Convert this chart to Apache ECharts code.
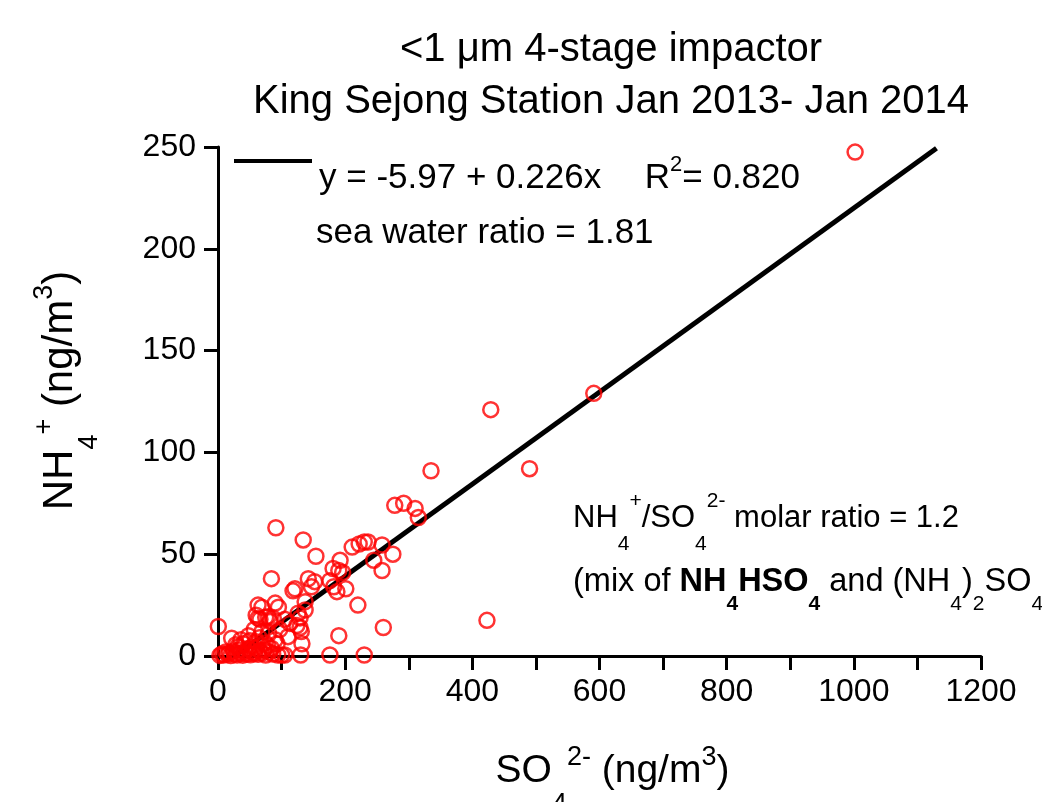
<!DOCTYPE html>
<html><head><meta charset="utf-8">
<script src="https://cdn.jsdelivr.net/npm/echarts@6/dist/echarts.min.js"></script>
<style>html,body{margin:0;padding:0;background:#fff;overflow:hidden}#c{width:1042px;height:802px}</style>
</head><body><div id="c"></div>
<script>
// ---- data ----
const titleLines = ['<1 μm 4-stage impactor', 'King Sejong Station Jan 2013- Jan 2014'];
const xTicks = [0, 200, 400, 600, 800, 1000, 1200];
const yTicks = [0, 50, 100, 150, 200, 250];
const so4 = [1002,591,429,490,335,423,278,292,310,315,275,258,245,258,260,230,211,222,230,236,
  192,190,196,201,182,220,190,176,91,134,154,181,176,187,142,152,147,118,137,137,84,90,63,60,66,75,82,87,
  113,129,129,132,130,131,124,97,105,93,105,94,100,110,126,0.5,21.5,48,69,31,53,74,84,90,95,69,79,63,121,
  3,6,9,12,15,18,20,24,27,30,33,36,39,42,45,48,51,54,57,60,63,66,69,72,75,78,81,86,40,28,60,50,36,65,80,57];
const nh4 = [247.5,129,121,92,91,17.5,74,75,72.5,68,50,54.5,47,42,14,0.5,53.5,55,56,56,
  47,42,41,33,34,25,10,0.5,63,57,49,43,37,31.6,38,36.5,34,32,26.7,22.6,38,26,25,20,18,19,17,18.5,
  16,18.7,14,6,0.5,12,15,13,18,6,0.5,0.5,0.5,9.5,21,14.5,8.7,10,12,4.6,4.6,6.4,3.8,8,24,24,19.3,18.6,33,
  0.3,1,0.5,2,0.8,1.5,0.2,2.5,1,0.5,3,1.5,0.4,2.2,1,3.5,0.6,2,1.2,4,0.8,2.6,1.4,3,0.5,5,2,1,6,5.5,7,7.5,8,9,11,13];
const fitX = [27, 1130];
const fitY = [0.1, 249.4];
const eqText = 'y = -5.97 + 0.226x';
const r2Text = ['R', '2', '= 0.820'];
const seaText = 'sea water ratio = 1.81';

const FONT = '"Liberation Sans", Arial, Helvetica, sans-serif';
const points = so4.map((x, i) => [x, nh4[i]]);
const fitLine = fitX.map((x, i) => [x, fitY[i]]);

function richSet(fs, subFs, lh, subShift, supShift) {
  const base = { fontFamily: FONT, color: '#000', lineHeight: lh };
  return {
    b:   Object.assign({ fontSize: fs, fontWeight: 'normal' }, base),
    bb:  Object.assign({ fontSize: fs, fontWeight: 'bold' }, base),
    sub: Object.assign({ fontSize: subFs, fontWeight: 'normal', padding: [subShift * 2, 0, 0, 0] }, base),
    bsub:Object.assign({ fontSize: subFs, fontWeight: 'bold', padding: [subShift * 2, 0, 0, 0] }, base),
    sup: Object.assign({ fontSize: subFs, fontWeight: 'normal', padding: [0, 0, supShift * 2, 0] }, base)
  };
}

const chart = echarts.init(document.getElementById('c'), null, { renderer: 'canvas' });
chart.setOption({
  animation: false,
  backgroundColor: '#fff',
  title: {
    text: titleLines.join('\n'),
    left: 606, top: 19, textAlign: 'center',
    textStyle: { fontSize: 40, fontWeight: 'normal', lineHeight: 52, fontFamily: FONT, color: '#000' }
  },
  grid: { left: 218, right: 61, top: 147, bottom: 146, containLabel: false, outerBoundsMode: 'none' },
  xAxis: {
    type: 'value', min: xTicks[0], max: xTicks[xTicks.length - 1], interval: xTicks[1] - xTicks[0],
    splitLine: { show: false },
    axisLine: { show: true, onZero: false, lineStyle: { color: '#000', width: 3 } },
    axisTick: { show: true, length: 14, lineStyle: { color: '#000', width: 3 } },
    minorTick: { show: true, splitNumber: 2, length: 14, lineStyle: { color: '#000', width: 3 } },
    axisLabel: { fontSize: 32, color: '#000', fontFamily: FONT, margin: 20, formatter: v => String(v) },
    name: '{b|SO}{sub|4}{sup|2-}{b| (ng/m}{sup|3}{b|)}',
    nameLocation: 'middle', nameGap: 90,
    nameTextStyle: { padding: [0, 0, 0, 26], rich: richSet(39, 27, 50, 34, 13) }
  },
  yAxis: {
    type: 'value', min: yTicks[0], max: yTicks[yTicks.length - 1], interval: yTicks[1] - yTicks[0],
    splitLine: { show: false },
    axisLine: { show: true, onZero: false, lineStyle: { color: '#000', width: 3 } },
    axisTick: { show: true, length: 14, lineStyle: { color: '#000', width: 3 } },
    axisLabel: { fontSize: 32, color: '#000', fontFamily: FONT, margin: 22, formatter: v => String(v) },
    name: '{b|NH}{sub|4}{sup|+}{b| (ng/m}{sup|3}{b|)}',
    nameLocation: 'middle', nameGap: 131, nameRotate: 90,
    nameTextStyle: { padding: [0, 0, 0, 22], rich: richSet(42, 27, 54, 30, 15) }
  },
  series: [
    {
      type: 'line', data: fitLine, symbol: 'none', silent: true, z: 1,
      lineStyle: { color: '#000', width: 5 }
    },
    {
      type: 'scatter', data: points, symbol: 'circle', symbolSize: 15, z: 2, clip: false,
      itemStyle: { color: 'rgba(0,0,0,0)', borderColor: '#ff0000', borderWidth: 2.5 },
      emphasis: { disabled: true }
    }
  ],
  graphic: [
    { type: 'line', shape: { x1: 234, y1: 161, x2: 312, y2: 161 }, style: { stroke: '#000', lineWidth: 4 } },
    { type: 'text', x: 319, y: 178, style: {
        text: '{b|' + eqText + '}', verticalAlign: 'middle', rich: richSet(35, 22, 44, 12, 13) } },
    { type: 'text', x: 800, y: 178, style: {
        text: '{b|' + r2Text[0] + '}{sup|' + r2Text[1] + '}{b|' + r2Text[2] + '}',
        align: 'right', verticalAlign: 'middle', rich: richSet(35, 22, 44, 12, 13) } },
    { type: 'text', x: 316, y: 233, style: {
        text: '{b|' + seaText + '}', verticalAlign: 'middle', rich: richSet(35, 22, 44, 12, 12) } },
    { type: 'text', x: 573, y: 518, style: {
        text: '{b|NH}{sub|4}{sup|+}{b|/SO}{sub|4}{sup|2-}{b| molar ratio = 1.2}',
        verticalAlign: 'middle', rich: richSet(31, 21, 44, 26, 17) } },
    { type: 'text', x: 573, y: 582, style: {
        text: '{b|(mix of }{bb|NH}{bsub|4}{bb|HSO}{bsub|4}{b| and (NH}{sub|4}{b|)}{sub|2}{b|SO}{sub|4}{b|)}',
        verticalAlign: 'middle', rich: richSet(32.5, 21, 44, 22, 17) } }
  ]
});
</script></body></html>
